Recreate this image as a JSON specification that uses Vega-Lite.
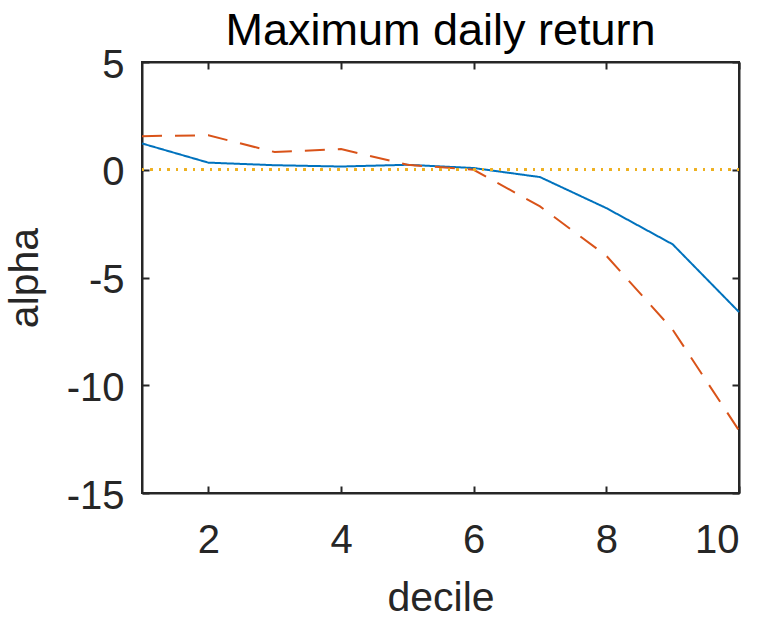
{
  "$schema": "https://vega.github.io/schema/vega-lite/v6.json",
  "width": 597,
  "height": 431,
  "autosize": {"type": "none"},
  "padding": {"left": 142, "top": 62, "right": 27, "bottom": 127},
  "background": "white",
  "title": {"text": "Maximum daily return", "fontSize": 45, "font": "Liberation Sans", "fontWeight": "normal", "color": "#000000", "anchor": "middle", "offset": -9},
  "config": {
    "view": {"stroke": "#262626", "strokeWidth": 2},
    "axis": {"grid": false, "labelFont": "Liberation Sans", "titleFont": "Liberation Sans", "labelFontSize": 40, "titleFontSize": 41, "titleFontWeight": "normal", "labelColor": "#262626", "titleColor": "#262626", "domainColor": "#262626", "tickColor": "#262626", "domainWidth": 2, "tickWidth": 2, "tickSize": -7}
  },
  "data": {"values": [
    {"decile": 1, "series": "A", "alpha": 1.22},
    {"decile": 2, "series": "A", "alpha": 0.33},
    {"decile": 3, "series": "A", "alpha": 0.21},
    {"decile": 4, "series": "A", "alpha": 0.15},
    {"decile": 5, "series": "A", "alpha": 0.23},
    {"decile": 6, "series": "A", "alpha": 0.08},
    {"decile": 7, "series": "A", "alpha": -0.34},
    {"decile": 8, "series": "A", "alpha": -1.78},
    {"decile": 9, "series": "A", "alpha": -3.46},
    {"decile": 10, "series": "A", "alpha": -6.6},
    {"decile": 1, "series": "B", "alpha": 1.56},
    {"decile": 2, "series": "B", "alpha": 1.6},
    {"decile": 3, "series": "B", "alpha": 0.82},
    {"decile": 4, "series": "B", "alpha": 0.96},
    {"decile": 5, "series": "B", "alpha": 0.23},
    {"decile": 6, "series": "B", "alpha": 0.0},
    {"decile": 7, "series": "B", "alpha": -1.7},
    {"decile": 8, "series": "B", "alpha": -3.99},
    {"decile": 9, "series": "B", "alpha": -7.42},
    {"decile": 10, "series": "B", "alpha": -12.1}
  ]},
  "layer": [
    {
      "mark": {"type": "line", "strokeWidth": 2},
      "encoding": {
        "x": {"field": "decile", "type": "quantitative", "scale": {"domain": [1, 10], "nice": false, "zero": false}, "axis": {"orient": "bottom", "values": [2, 4, 6, 8, 10], "title": "decile", "labelPadding": 34, "titlePadding": 18}},
        "y": {"field": "alpha", "type": "quantitative", "scale": {"domain": [-15, 5], "nice": false}, "axis": {"orient": "left", "values": [-15, -10, -5, 0, 5], "title": "alpha", "labelPadding": 25, "labelOffset": 3, "titlePadding": 20, "labelExpr": "'' + datum.value"}},
        "color": {"field": "series", "type": "nominal", "scale": {"domain": ["A", "B"], "range": ["#0072BD", "#D95319"]}, "legend": null},
        "strokeDash": {"field": "series", "type": "nominal", "scale": {"domain": ["A", "B"], "range": [[1, 0], [20, 13]]}, "legend": null}
      }
    },
    {
      "mark": {"type": "point", "opacity": 0},
      "encoding": {
        "x": {"field": "decile", "type": "quantitative", "axis": {"orient": "top", "values": [2, 4, 6, 8, 10], "labels": false, "title": null}},
        "y": {"field": "alpha", "type": "quantitative", "axis": {"orient": "right", "values": [-15, -10, -5, 0, 5], "labels": false, "title": null}}
      }
    },
    {
      "mark": {"type": "rule", "color": "#EDB120", "strokeWidth": 2, "strokeDash": [2, 6.5]},
      "encoding": {"y": {"datum": 0, "axis": null}}
    }
  ],
  "resolve": {"axis": {"x": "independent", "y": "independent"}}
}
